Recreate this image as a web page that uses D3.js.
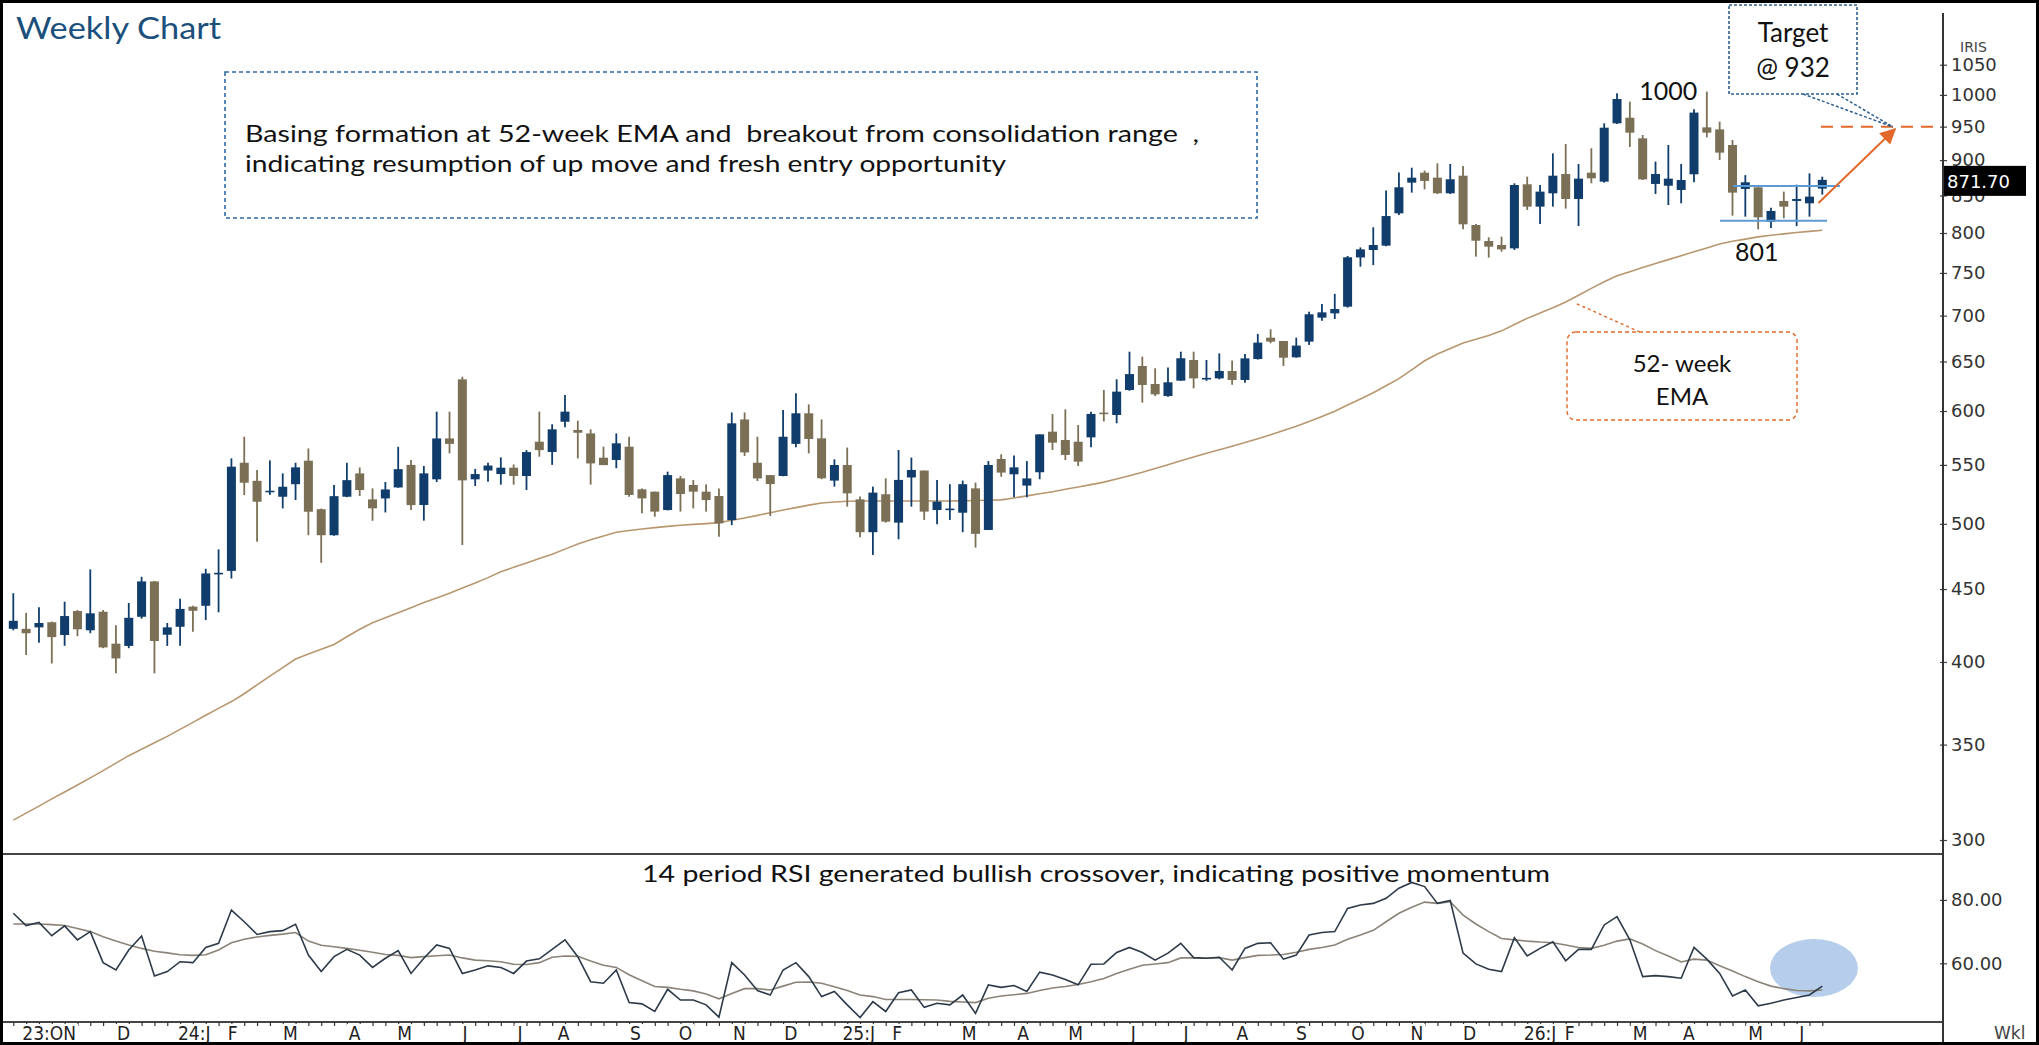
<!DOCTYPE html>
<html><head><meta charset="utf-8">
<script src="https://cdn.jsdelivr.net/npm/d3@7"></script>
<style>
html,body{margin:0;padding:0;background:#fff;}
svg{display:block;}
</style></head><body>
<svg id="c" width="2039" height="1045"></svg>
<script>
// ---------- DATA (weekly candles) ----------
const open  = [422,422,423,426.5,417.8,434.3,421,433.8,412,410.5,430.3,455.6,418,423.4,437.4,438,461,463.4,551.9,536,526.5,522.4,533.1,553.7,512,490.9,522.4,542.5,520.2,521,530.3,550,515.5,537.3,574,631.5,537.3,545,541.9,547.5,540.2,571,561.6,589.7,581.9,578.7,556.4,554.4,566.4,528.7,526.7,511.3,538.1,532.4,526.7,523,503.1,591.9,551.9,541,540.2,569,597.8,574.1,536.2,549.9,520.2,493.3,524.5,501,538.9,545,511.3,512,509.1,529.5,495.1,555.3,541.7,531.9,543.5,580.3,572.6,571,575,598.5,596.2,620.7,645.3,626.8,614.7,630.2,651.6,632,632.5,640.1,630.9,652.6,675.5,671.9,654.4,671.2,697.7,702.6,710.2,769,778.3,783.8,825.8,867.8,881.9,874.8,853,877.6,810.4,789.7,784.6,780.4,865.5,834.8,853,880,845.2,881.9,869.2,955.1,963.8,932.2,866,863.5,857.6,879.6,948.9,945.8,922.2,859,861.3,814.8,842.5,842.5,839.3,859.5];
const high  = [447,433,437,427,440.9,435,464.5,435,424.5,440,459,456,426,443,438,465,479.8,555.8,575.6,545.4,554,542.5,551.9,564.8,512.5,532.3,551.9,547.7,529.5,535,566.3,554.3,549,599.4,599.4,634.2,546.4,552,556.7,550.4,563.3,599.4,587.3,615.7,590.7,582.5,566.4,578.7,575.6,529.5,526.7,544,540.2,536.7,533,529.5,598.6,598.6,575.6,541,600.9,617.4,606.5,591.9,555,565.6,522.5,531,538.2,563.4,556.5,545,536.8,533.1,536.2,534.5,553.4,559.5,558.3,553.4,577.8,597.2,601.6,586.6,599.4,620.7,631.6,660.4,655.1,642.9,643.6,660.4,660.4,651.6,658.6,651,658,679.6,684.7,671.9,675.5,704.5,713.2,725,770.8,781.6,807.4,856.7,882,889,884.8,895.3,894.3,891.4,811.7,794.4,795.2,866.9,876.2,864.5,909.9,923.7,894.4,917.4,955.1,1002.5,989.1,937.3,897.8,922.2,894.4,977,1005.2,957.6,929.7,878.4,861.3,833.4,855.3,865,881,876.2];
const low   = [421,404.5,412.6,399,410.6,417,419,409,392.7,409,429,392.7,410.5,410.6,420,428,433.4,457.7,523.8,485.8,524,512.7,519.6,490.9,469.5,490.5,522,523,502.5,509.3,530,511.3,502.6,535,560.3,483.2,531.6,535.2,532.7,532.7,528.1,557.3,550,584.4,555.8,532.7,549.8,547,522.4,508.6,505.8,511,510,512.7,510,489.7,499,558,535.8,506.4,540,566,560.3,537.4,531,514.1,489.3,475.5,501,487.7,514.1,503.2,499.6,503.2,493.3,481.2,495,539.6,521.9,521.9,537.4,563.4,554.4,549,566,590,588.2,620,608.2,614.7,614,630,622.4,630,631.5,626,628,652,669.4,645.3,654,667.6,694.3,696.2,709.1,757.6,759.6,783,823.6,853.9,858.5,852,852,804.8,770,768.8,776.2,778.3,830.3,811.7,834.8,832.1,809,866.9,867.8,954.1,919.3,871.5,852.1,837,839.3,868.2,933.7,900.2,822.7,821.4,804.8,806.4,819.2,809,821.4,851];
const close = [427.5,419,426,416.4,430.8,421.7,432.7,409.5,402.3,429.6,455.6,413.8,423,435.8,434.5,461.5,462,548.4,534.4,518.2,527.5,530.9,547.8,509.9,490.9,522.9,536.6,528.1,512.7,528.6,546.2,515.4,542.5,574,569,536.4,541.9,549.4,547.5,540.2,561.5,563.3,582.5,599.4,579.3,551.3,549.8,569.5,523.9,521,510,541,524.7,526.7,519.6,500.4,588.2,561.2,538.1,533.2,575.6,597.8,573.5,538.2,549.9,525.3,493.3,525.9,501.8,536.8,545.5,510,518.3,512.5,533.1,492,549.9,543.2,547.8,538.1,577.8,570.1,558.9,552.9,597.2,597.5,619.1,636.9,625.8,616.4,628.5,653.4,632.5,633,640.1,630.9,653.3,670.1,671.2,654,666.9,701.5,703.7,707.5,769.2,779.1,784.6,822.2,861.3,874.8,870.2,853,872.5,811.3,790.1,782.5,779.1,864.5,834.8,855.3,877.6,845.2,873.4,873.9,948.4,993.4,940.8,872.4,880,873.4,871.5,971.8,940.8,910.9,853.9,868.3,820.5,829,834.8,845.2,848.4,871.7];
const ema52 = [309.8,313.3,316.9,320.6,324.2,327.9,331.7,335.6,339.7,343.8,347.4,351,354.7,358.7,362.8,367,371.1,375.2,380,385.5,391,396.4,401.9,405.2,408.3,411.5,416.6,421.7,426.1,429.6,433.1,436.7,440.3,443.6,447,450.7,454.4,458.4,462.8,466.1,469.4,472.7,476.1,480,484,487.3,490.3,493.3,494.7,495.9,497,498,498.9,499.6,500.2,501,502.9,504.8,506.9,509.1,511.3,513.3,515.4,517.2,518,518.6,518.8,518.8,518.8,518.8,518.8,518.8,518.8,518.8,518.9,519.2,519.5,519.8,521.4,523.1,524.9,526.7,528.7,530.7,532.7,534.9,537.6,540.4,543.4,546.8,550.2,553.6,557.1,560.5,563.6,566.9,570.3,573.8,577.4,581.4,585.5,590,594.8,599.8,605.8,611.7,618,625,632.2,641.3,650.8,658,663.9,669.7,673.9,678,683,690,696.9,703,708.9,715.6,723.5,731.5,739.4,746.6,751.5,756.5,761.5,766.3,771.2,776,780.9,785.9,789.4,792.1,795,797,798.9,800.7,802.1,803.6];
const rsi14 = [75.8,71.9,72.9,68.7,71.8,67.4,70,60.2,57.9,64.2,68.6,56,57.4,60.5,60.2,65,66.3,76.8,73.1,69.1,70,70.3,72.3,62.6,57.4,62.1,64.4,62.6,58.7,61.6,64,56.8,61.6,65.8,64.7,56.8,57.9,59.2,58.7,56.8,60.7,61.4,64.4,67.4,62.1,54.2,53.7,57.9,47.6,47.2,44.8,51.8,48.4,48.4,46.9,43,60.2,56.3,51.4,50,57.9,60.2,55.8,49.5,51.1,46.9,42.9,47.9,44.8,50.7,51.6,46.1,47.4,46.9,50,44.2,53.2,52.4,53,51.1,57.2,56.3,54.9,53.2,59.7,59.8,63.4,65,63.4,61,63.2,66.3,61.8,61.6,61.9,57.9,64.7,66.3,66.5,61.3,62.6,68.9,69.7,70,77.3,78.4,78.9,80.5,83.7,85.5,84.2,78.9,79.8,63.2,59.8,58.1,57.4,68.1,62.3,64.7,66.8,60.8,64.4,64.4,72.1,74.7,67.4,55.8,56.1,55.8,55.3,65,61.3,56.8,49.7,51.6,46.6,47.4,48.4,49.2,50,52.8];
const rsiSignal = [72.4,72.4,72.4,72.2,71.9,71,70,68.4,67,65.8,64.7,63.8,63.3,62.7,62.5,62.7,64.2,66.5,67.6,68.3,68.8,69.2,69.7,67,65.7,65.2,64.7,64.1,63.5,62.8,62.5,61.8,62.1,62.4,62.6,61.7,61,60.8,60.5,59.7,59.6,60.2,61.9,62.3,62.2,60.7,59.4,58.7,56.4,54.5,52.7,52.4,51.8,51.3,50.3,48.8,50.5,52,52,51.6,52.8,54,54.1,53.7,52.6,51.4,50,49.5,48.6,48.6,48.6,48.5,48.4,48,47.8,47.6,49,49.7,50.1,50.5,51.4,52.2,52.7,53.3,54.2,55.2,56.8,58.1,59.4,59.8,60.2,61.7,61.7,61.6,61.8,61,61.8,62.5,62.6,62.8,63.5,64.4,65,65.8,67.6,68.9,70.4,73.1,75.8,77.7,79.3,78.9,79.4,75.2,72.4,70,67.8,67.4,67,66.7,66.5,65.8,65,64.7,65.7,67,67.7,66.1,64,62.3,60.4,61.3,61,59.2,57.6,55.8,54.2,52.8,52,51.4,51.3,51.6];
const priceTicks = [300,350,400,450,500,550,600,650,700,750,800,850,900,950,1000,1050];
const rsiTicks = [60,80];
const monthLabels = ["23:ON","D","24:J","F","M","A","M","J","J","A","S","O","N","D","25:J","F","M","A","M","J","J","A","S","O","N","D","26:J","F","M","A","M","J"];
const monthPos = [2.8,8.6,14.1,17.1,21.6,26.6,30.5,35.2,39.5,42.9,48.5,52.4,56.6,60.6,65.9,68.9,74.5,78.7,82.8,87.3,91.4,95.8,100.4,104.8,109.4,113.5,119.0,121.3,126.8,130.6,135.8,139.4];
const rangeHigh = 863, rangeLow = 816, swingHigh = 1000, swingLow = 801, targetLevel = 950;

// ---------- SETUP ----------
const W = 2039, H = 1045;
const svg = d3.select("#c");
svg.append("rect").attr("width", W).attr("height", H).attr("fill", "#fff");
const N = close.length;
const x = d3.scaleLinear().domain([0, N - 1]).range([13.3, 1822.3]);
const y = d3.scaleLog().domain([300, 1050]).range([840, 64.7]);
const yr = d3.scaleLinear().domain([60, 80]).range([963.3, 899.9]);
const AX = 1943;
const BULL = "#103d6b", BEAR = "#7b7055";
const ANN = "Lato, 'Noto Sans', sans-serif";
const AXF = "'DejaVu Sans', Verdana, sans-serif";
const XF = "'DejaVu Sans Condensed', 'Liberation Sans Narrow', sans-serif";

// ---------- TOP-LEFT ANNOTATION BOX ----------
svg.append("rect").attr("x", 225).attr("y", 72).attr("width", 1032).attr("height", 146)
  .attr("fill", "none").attr("stroke", "#2f6aa3").attr("stroke-width", 1.6).attr("stroke-dasharray", "4,3");
svg.append("text").attr("x", 245).attr("y", 142).attr("font-family", ANN).attr("font-size", 23)
  .attr("fill", "#111").attr("textLength", 954).attr("lengthAdjust", "spacingAndGlyphs")
  .attr("xml:space", "preserve")
  .text("Basing formation at 52-week EMA and  breakout from consolidation range  ,");
svg.append("text").attr("x", 245).attr("y", 172).attr("font-family", ANN).attr("font-size", 23)
  .attr("fill", "#111").attr("textLength", 761).attr("lengthAdjust", "spacingAndGlyphs")
  .text("indicating resumption of up move and fresh entry opportunity");

// ---------- TITLE ----------
svg.append("text").attr("x", 16).attr("y", 39).attr("font-family", ANN).attr("font-size", 30)
  .attr("fill", "#1b4f7c").attr("textLength", 205).attr("lengthAdjust", "spacingAndGlyphs").text("Weekly Chart");

// ---------- EMA ----------
svg.append("path").datum(ema52).attr("fill", "none").attr("stroke", "#b8976f").attr("stroke-width", 1.6)
  .attr("d", d3.line().x((d, i) => x(i)).y(d => y(d)));

// ---------- CANDLES ----------
const cg = svg.append("g");
const idx = d3.range(N);
cg.selectAll("line.w").data(idx).join("line").attr("class", "w")
  .attr("x1", i => x(i)).attr("x2", i => x(i))
  .attr("y1", i => y(high[i])).attr("y2", i => y(low[i]))
  .attr("stroke", i => close[i] >= open[i] ? BULL : BEAR).attr("stroke-width", 1.8);
cg.selectAll("rect.b").data(idx).join("rect").attr("class", "b")
  .attr("x", i => x(i) - 4.5).attr("width", 9)
  .attr("y", i => y(Math.max(open[i], close[i])))
  .attr("height", i => Math.max(1.6, Math.abs(y(open[i]) - y(close[i]))))
  .attr("fill", i => close[i] >= open[i] ? BULL : BEAR);

// ---------- CONSOLIDATION RANGE ----------
svg.append("line").attr("x1", 1733).attr("x2", 1840).attr("y1", y(rangeHigh)).attr("y2", y(rangeHigh))
  .attr("stroke", "#5b9bd5").attr("stroke-width", 2);
svg.append("line").attr("x1", 1720).attr("x2", 1827).attr("y1", y(rangeLow)).attr("y2", y(rangeLow))
  .attr("stroke", "#5b9bd5").attr("stroke-width", 2);

// swing labels
svg.append("text").attr("x", x(129)).attr("y", y(swingHigh) + 5).attr("text-anchor", "middle")
  .attr("font-family", ANN).attr("font-size", 25).attr("fill", "#111").text(String(swingHigh));
svg.append("text").attr("x", x(135.9)).attr("y", y(swingLow) + 29).attr("text-anchor", "middle")
  .attr("font-family", ANN).attr("font-size", 25).attr("fill", "#111").text(String(swingLow));

// ---------- TARGET ----------
svg.append("line").attr("x1", 1821).attr("x2", 1940).attr("y1", y(targetLevel)).attr("y2", y(targetLevel))
  .attr("stroke", "#e2692a").attr("stroke-width", 2).attr("stroke-dasharray", "12,8");
const defs = svg.append("defs");
defs.append("marker").attr("id", "ah").attr("viewBox", "0 0 10 10").attr("refX", 9).attr("refY", 5)
  .attr("markerWidth", 8).attr("markerHeight", 8).attr("markerUnits", "strokeWidth").attr("orient", "auto")
  .append("path").attr("d", "M0,0 L10,5 L0,10 Z").attr("fill", "#e2692a");
svg.append("line").attr("x1", x(140.7)).attr("y1", 203).attr("x2", 1895).attr("y2", 129)
  .attr("stroke", "#e2692a").attr("stroke-width", 2).attr("marker-end", "url(#ah)");
svg.append("rect").attr("x", 1729).attr("y", 5).attr("width", 128).attr("height", 89)
  .attr("fill", "#fff").attr("stroke", "#2f5f8f").attr("stroke-width", 1.6).attr("stroke-dasharray", "3,2");
svg.append("path").attr("d", "M1803,94 L1893,127 M1837,94 L1893,127").attr("fill", "none")
  .attr("stroke", "#2f5f8f").attr("stroke-width", 1.5).attr("stroke-dasharray", "3,2");
svg.append("text").attr("x", 1793).attr("y", 42).attr("text-anchor", "middle").attr("font-family", ANN)
  .attr("font-size", 26).attr("fill", "#111").text("Target");
svg.append("text").attr("x", 1793).attr("y", 77).attr("text-anchor", "middle").attr("font-family", ANN)
  .attr("font-size", 26).attr("fill", "#111").text("@ 932");

// ---------- EMA CALLOUT ----------
svg.append("line").attr("x1", x(120)+24).attr("y1", y(ema52[120])-4).attr("x2", 1642).attr("y2", 333)
  .attr("stroke", "#e2692a").attr("stroke-width", 1.4).attr("stroke-dasharray", "3,3");
svg.append("rect").attr("x", 1567).attr("y", 332).attr("width", 230).attr("height", 88).attr("rx", 9)
  .attr("fill", "#fff").attr("stroke", "#e2692a").attr("stroke-width", 1.4).attr("stroke-dasharray", "4,3");
svg.append("text").attr("x", 1682).attr("y", 372).attr("text-anchor", "middle").attr("font-family", ANN)
  .attr("font-size", 24).attr("fill", "#111").text("52- week");
svg.append("text").attr("x", 1682).attr("y", 405).attr("text-anchor", "middle").attr("font-family", ANN)
  .attr("font-size", 24).attr("fill", "#111").text("EMA");

// ---------- PANE LINES ----------
svg.append("line").attr("x1", 0).attr("x2", AX).attr("y1", 854).attr("y2", 854).attr("stroke", "#444").attr("stroke-width", 2);
svg.append("line").attr("x1", 0).attr("x2", AX).attr("y1", 1022).attr("y2", 1022).attr("stroke", "#444").attr("stroke-width", 2);

// ---------- RSI PANE ----------
svg.append("ellipse").attr("cx", 1814).attr("cy", 968).attr("rx", 44).attr("ry", 29).attr("fill", "#a9c6e8").attr("opacity", 0.85);
svg.append("path").datum(rsiSignal).attr("fill", "none").attr("stroke", "#8a8377").attr("stroke-width", 1.6)
  .attr("d", d3.line().x((d, i) => x(i)).y(d => yr(d)));
svg.append("path").datum(rsi14).attr("fill", "none").attr("stroke", "#2d3a48").attr("stroke-width", 1.6)
  .attr("d", d3.line().x((d, i) => x(i)).y(d => yr(d)));
svg.append("text").attr("x", 1096).attr("y", 882).attr("text-anchor", "middle").attr("font-family", ANN)
  .attr("font-size", 24).attr("fill", "#111").attr("textLength", 908).attr("lengthAdjust", "spacingAndGlyphs")
  .text("14 period RSI generated bullish crossover, indicating positive momentum");

// ---------- RIGHT AXES ----------
const pa = svg.append("g").attr("transform", `translate(${AX},0)`)
  .call(d3.axisRight(y).tickValues(priceTicks).tickFormat(d3.format("d")).tickSize(4).tickPadding(4));
const ra = svg.append("g").attr("transform", `translate(${AX},0)`)
  .call(d3.axisRight(yr).tickValues(rsiTicks).tickFormat(d3.format(".2f")).tickSize(4).tickPadding(4));
[pa, ra].forEach(g => {
  g.select(".domain").remove();
  g.selectAll(".tick line").attr("x1", -3).attr("stroke", "#444").attr("stroke-width", 1.2);
  g.selectAll(".tick text").attr("font-family", AXF).attr("font-size", 18).attr("fill", "#333");
});
svg.append("line").attr("x1", AX).attr("x2", AX).attr("y1", 13).attr("y2", H).attr("stroke", "#333").attr("stroke-width", 2);
svg.append("text").attr("x", 1960).attr("y", 52).attr("font-family", AXF).attr("font-size", 14).attr("fill", "#444").text("IRIS");
// last price tag
svg.append("rect").attr("x", AX + 1).attr("y", y(close[N - 1]) - 14).attr("width", 82).attr("height", 30).attr("fill", "#000");
svg.append("text").attr("x", AX + 4).attr("y", y(close[N - 1]) + 8).attr("font-family", AXF).attr("font-size", 18)
  .attr("fill", "#fff").text(d3.format(".2f")(close[N - 1]));
svg.append("text").attr("x", 1994).attr("y", 1039).attr("font-family", AXF).attr("font-size", 17).attr("fill", "#444").text("Wkl");

// ---------- BOTTOM (TIME) AXIS ----------
const xa = svg.append("g").attr("transform", "translate(0,1022)")
  .call(d3.axisBottom(x).tickValues(idx).tickSize(4).tickFormat(""));
xa.select(".domain").remove();
xa.selectAll(".tick line").attr("stroke", "#333").attr("stroke-width", 1.2);
const lg = svg.append("g");
monthLabels.forEach((t, k) => {
  const tx = lg.append("text").attr("x", x(monthPos[k])).attr("y", 1040).attr("text-anchor", "middle")
    .attr("font-family", XF).attr("font-size", 19)
    .attr("fill", "#222").text(t);
  const bb = tx.node().getBBox();
  lg.insert("rect", "text").attr("x", bb.x - 2).attr("y", 1024).attr("width", bb.width + 4).attr("height", 18).attr("fill", "#fff");
});

// ---------- FRAME ----------
svg.append("rect").attr("x", 1.5).attr("y", 1.5).attr("width", W - 3).attr("height", H - 3)
  .attr("fill", "none").attr("stroke", "#000").attr("stroke-width", 3);
</script>
</body></html>
